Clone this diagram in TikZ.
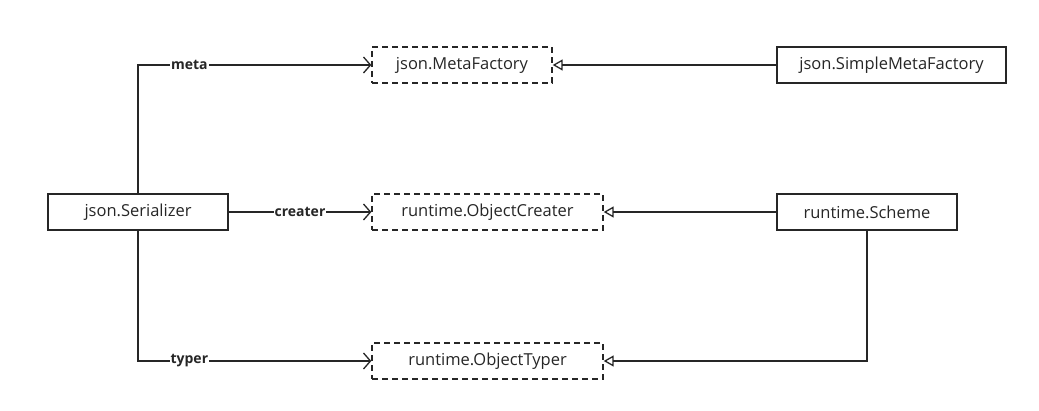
\documentclass[tikz,border=0pt]{standalone}
\usepackage{fontspec}
\setmainfont{Open Sans}
\usetikzlibrary{arrows.meta}
\begin{document}
\begin{tikzpicture}[x=1pt,y=-1pt,
  cls/.style={draw=black!85,line width=1.3pt,minimum height=36pt,inner sep=0pt,font=\fontsize{16.5}{19}\selectfont,text=black!85},
  iface/.style={cls,dashed,dash pattern=on 6pt off 4pt},
  assoc/.style={draw=black!85,line width=1.3pt,-{Straight Barb[length=7pt,width=16pt,line width=1.3pt]}},
  impl/.style={draw=black!85,line width=1.3pt,-{Triangle[open,length=10pt,width=11pt,line width=1.3pt]}},
  lbl/.style={fill=white,inner sep=1pt,font=\bfseries\fontsize{14}{16}\selectfont,text=black!85}]
\useasboundingbox (0,0) rectangle (1039,411);
\node[cls,minimum width=180pt] (ser) at (138,212) {json.Serializer};
\node[iface,minimum width=180pt] (mf) at (462,65) {json.MetaFactory};
\node[cls,minimum width=229pt] (smf) at (891.5,65) {json.SimpleMetaFactory};
\node[iface,minimum width=231pt] (oc) at (487.5,212) {runtime.ObjectCreater};
\node[cls,minimum width=180pt] (sch) at (867,212) {runtime.Scheme};
\node[iface,minimum width=231pt] (ot) at (487.5,361) {runtime.ObjectTyper};
\draw[assoc] (ser.north) |- node[lbl,pos=0.61] {meta} (mf.west);
\draw[assoc] (ser.east) -- node[lbl,pos=0.5] {creater} (oc.west);
\draw[assoc] (ser.south) |- node[lbl,pos=0.61] {typer} (ot.west);
\draw[impl] (smf.west) -- (mf.east);
\draw[impl] (sch.west) -- (oc.east);
\draw[impl] (sch.south) |- (ot.east);
\end{tikzpicture}
\end{document}
